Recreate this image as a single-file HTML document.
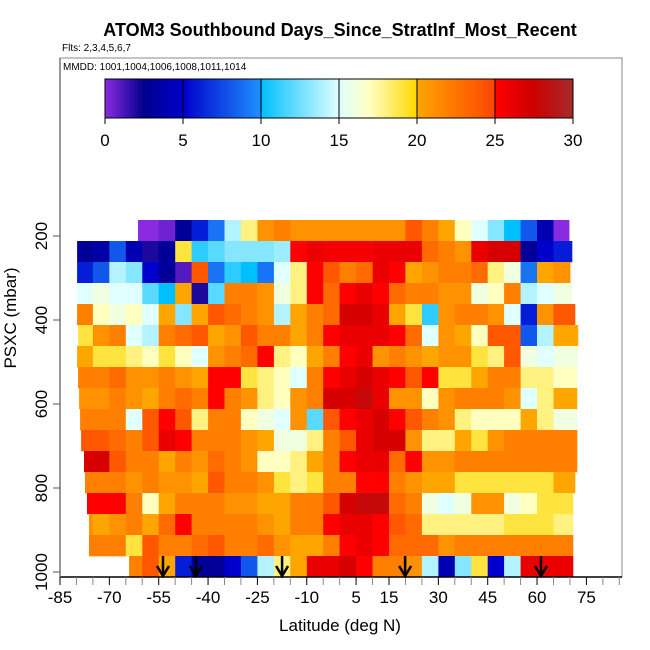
<!DOCTYPE html>
<html><head><meta charset="utf-8"><style>
html,body{margin:0;padding:0;background:#fff;width:650px;height:650px;overflow:hidden}
svg{display:block;font-family:"Liberation Sans",sans-serif}
</style></head><body>
<svg id="chart" width="650" height="650">
<text x="340" y="36" text-anchor="middle" font-size="18" font-weight="bold">ATOM3 Southbound Days_Since_StratInf_Most_Recent</text>
<text x="62" y="51" font-size="10">Flts: 2,3,4,5,6,7</text>
<rect x="60" y="58" width="562" height="519" fill="none" stroke="#888" stroke-width="1"/>
<text x="63" y="70" font-size="10">MMDD: 1001,1004,1006,1008,1011,1014</text>
<defs><linearGradient id="cbg" x1="0" x2="1" y1="0" y2="0"></linearGradient></defs>
<g id="cells"></g>
<g id="cbar"></g>
<g id="axes"></g>
<g id="arrows"></g>
<text x="340" y="631" text-anchor="middle" font-size="17">Latitude (deg N)</text>
<text transform="translate(16,318) rotate(-90)" text-anchor="middle" font-size="17">PSXC (mbar)</text>
</svg>
<script>
// data
const binCenters=[-77.5,-72.5,-67.5,-62.5,-57.5,-52.5,-47.5,-42.5,-37.5,-32.5,-27.5,-22.5,-17.5,-12.5,-7.5,-2.5,2.5,7.5,12.5,17.5,22.5,27.5,32.5,37.5,42.5,47.5,52.5,57.5,62.5,67.5];
const pressureLevels=[187,237,287,337,387,437,487,537,587,637,687,737,787,837,887,937,987];
const rowStart=[-61.3,-79.8,-79.8,-79.8,-79.8,-79.5,-79.8,-79.5,-79.2,-78.9,-78.6,-77.7,-77.4,-76.8,-76.2,-76.2,-64];
const rowEnd=[69.7,70.6,70,70.6,71.5,72.4,72.4,72.1,72.1,72.1,72.1,72.1,71.5,70.9,70.9,70.9,70.9];
const row0=[null,null,null,0,0,0.5,3,6,9,14,18,21,22,21,21,21,21,21,21,21,24,22,20,17,15,13,10,8,4,0];
const row1=[3,3.5,8,4,2,3,19,11,12,13,13,13,13.5,25,26,25.5,25.5,25.5,26,26,26,23,22,21,26,27,27,3,5,6];
const row2=[6,8,14,13,5,3,1,24,9,11,10,9,15,18,25,24,22,23,26,25,20,21,22,22,23,18,16,9,20,21];
const row3=[15,16,15,15,12,10,20,2,12,22,22,21,16,18,25,23,25,26,25,23,22,22,21,21,16,17,22,14,15,16];
const row4=[22,17,16,17,15,20,13,20,24,23,22,21,14,20,22,23,27,27,26,20,19,11,21,22,22,21,15,6,21,24];
const row5=[19,21,22,15,14,22,23,24,20,21,24,22,22,20,22,25,26,26,26,25,23,15,21,20,17,24,24,8,14,20];
const row6=[20,19,19,18,17,19,17,15,21,22,23,25,18,17,20,22,25,26,21,22,21,20,21,21,19,18,24,16,15,16];
const row7=[22,22,23,21,21,22,21,20,25,25,19,18,17,15,22,25,26,27,26,25,24,25,19,19,20,22,22,18,18,17];
const row8=[21,21,22,21,20,22,23,22,25,22,21,18,17,21,22,27,27,28,26,21,21,17,21,22,22,22,21,15,18,20];
const row9=[22,22,22,15,24,25,24,18,22,22,17,16,15,21,12,24,25,26,27,25,24,22,21,18,17,17,17,20,18,16];
const row10=[24,24,23,22,24,26,25,22,22,22,21,20,16,16,18,22,24,26,27,27,21,18,18,20,19,21,22,22,22,22];
const row11=[27,27,24,22,22,20,22,21,23,22,21,17,17,18,20,22,25,26,26,23,25,21,21,22,22,22,22,22,22,22];
const row12=[22,22,22,21,22,21,21,20,24,22,22,21,19,18,19,22,22,25,25,22,21,20,20,19,19,19,19,19,19,20];
const row13=[25,25,25,22,17,20,22,22,22,21,21,20,20,22,22,24,27,28,28,23,22,16,15,16,21,21,16,17,19,19];
const row14=[21,20,21,22,20,23,25,22,22,22,22,21,20,22,22,25,26,26,25,24,23,18,18,18,18,18,19,19,19,18];
const row15=[22,22,22,19,24,22,22,23,24,22,22,23,21,20,20,22,25,26,25,23,23,23,21,22,22,22,22,22,22,22];
const row16=[null,null,null,22,24,20,6,3,3,5,8,14,18,20,26,26,27,25,22,22,21,14,4,13,19,5,14,26,26,26];
const rows=[row0,row1,row2,row3,row4,row5,row6,row7,row8,row9,row10,row11,row12,row13,row14,row15,row16];
const flightMarkers=[-53.7,-43.7,-17.5,19.9,61.2];
const xTickLabels=[-85,-70,-55,-40,-25,-10,5,15,30,45,60,75];
const yTickLabels=[200,400,600,800,1000];
const cbTicks=[0,5,10,15,20,25,30];

const NS='http://www.w3.org/2000/svg';
const X=lat=>60+(lat+85)*3.29;
const Y=p=>572-(1000-p)*0.42;
const stops=[[0,[138,43,226]],[2.5,[0,0,139]],[5,[0,0,205]],[9.99,[30,144,255]],[10,[0,191,255]],[15,[224,255,255]],[17,[255,255,192]],[19.99,[255,215,0]],[20,[255,165,0]],[24.99,[255,69,0]],[25,[255,0,0]],[27.5,[205,0,0]],[30,[165,42,42]]];
function col(v){v=Math.max(0,Math.min(30,v));for(let i=1;i<stops.length;i++){if(v<=stops[i][0]){const a=stops[i-1],b=stops[i],t=(v-a[0])/(b[0]-a[0]||1);return 'rgb('+a[1].map((c,k)=>Math.round(c+(b[1][k]-c)*t)).join(',')+')';}}return 'rgb(165,42,42)';}
function el(t,a,parent){const e=document.createElementNS(NS,t);for(const k in a)e.setAttribute(k,a[k]);parent.appendChild(e);return e;}
const cells=document.getElementById('cells');
rows.forEach((r,ri)=>{
  const p=pressureLevels[ri];
  const y0=Y(p-25),y1=Y(p+25);
  r.forEach((v,bi)=>{
    if(v===null)return;
    let a=Math.max(binCenters[bi]-2.5,rowStart[ri]),b=Math.min(binCenters[bi]+2.5,rowEnd[ri]);
    if(bi===r.length-1)b=rowEnd[ri];
    if(b<=a)return;
    const e=el('rect',{x:X(a).toFixed(1),y:y0.toFixed(1),width:(X(b)-X(a)+0.4).toFixed(1),height:(y1-y0+0.3).toFixed(1),fill:col(v)},cells);
    
    
  });
});
// colorbar
const grad=document.getElementById('cbg');
stops.forEach(s=>{el('stop',{offset:(s[0]/30).toFixed(4),'stop-color':'rgb('+s[1].join(',')+')'},grad);});
const cb=document.getElementById('cbar');
const cbX=v=>105+v*(468/30);
const cbr=el('rect',{x:105,y:79,width:468,height:39,fill:'url(#cbg)',stroke:'#000','stroke-width':1},cb);


cbTicks.forEach(v=>{
  if(v>0&&v<30)el('line',{x1:cbX(v),x2:cbX(v),y1:79,y2:118,stroke:'#000','stroke-width':1},cb);
  el('line',{x1:cbX(v),x2:cbX(v),y1:118,y2:124,stroke:'#000'},cb);
  const t=el('text',{x:cbX(v),y:146,'text-anchor':'middle','font-size':17},cb);t.textContent=v;
  
  
});
// axes
const ax=document.getElementById('axes');
el('line',{x1:60,x2:622,y1:577,y2:577,stroke:'#000','stroke-width':1.5},ax);
el('line',{x1:60,x2:60,y1:58,y2:577,stroke:'#777','stroke-width':1.5},ax);
for(let lat=-85;lat<=85;lat+=5){
  const lab=xTickLabels.includes(lat);
  el('line',{x1:X(lat),x2:X(lat),y1:577,y2:585,stroke:lab?'#000':'#888','stroke-width':1},ax);
}
xTickLabels.forEach(v=>{const t=el('text',{x:X(v),y:603,'text-anchor':'middle','font-size':17},ax);t.textContent=v;
  
  });
yTickLabels.forEach(v=>{
  el('line',{x1:53,x2:60,y1:Y(v),y2:Y(v),stroke:'#555'},ax);
  const t=el('text',{transform:'translate(47,'+Y(v)+') rotate(-90)','text-anchor':'middle','font-size':17},ax);t.textContent=v;
  
  
});
// arrows
const ar=document.getElementById('arrows');
flightMarkers.forEach(lat=>{
  const x=X(lat);
  const g=el('g',{},ar);
  
  
  el('line',{x1:x,x2:x,y1:556,y2:575,stroke:'#000','stroke-width':2.5},g);
  el('polyline',{points:(x-6)+',566 '+x+',576 '+(x+6)+',566',fill:'none',stroke:'#000','stroke-width':2.5},g);
});
</script>
</body></html>
